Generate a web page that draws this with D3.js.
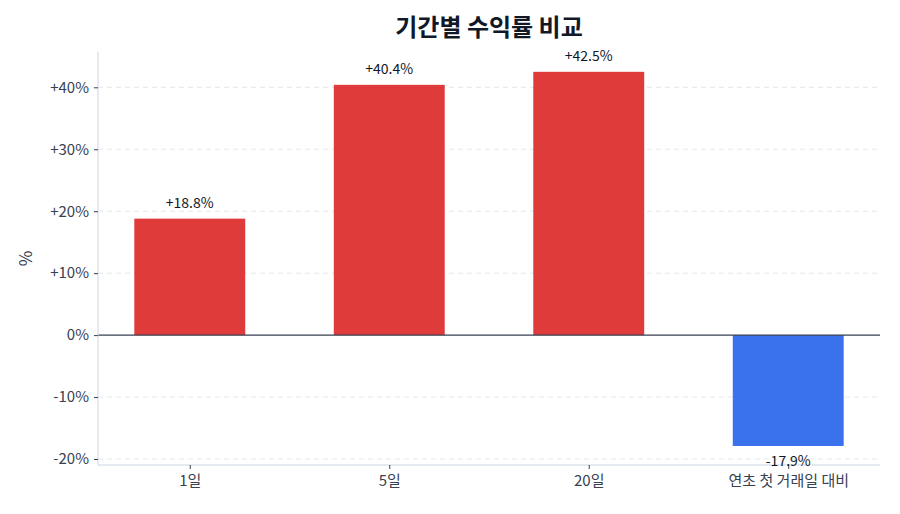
<!DOCTYPE html>
<html>
<head>
<meta charset="utf-8">
<script src="https://cdn.jsdelivr.net/npm/d3@7"></script>
<style>
  html, body { margin: 0; padding: 0; background: #fff; }
  svg { display: block; font-family: "Noto Sans CJK KR", "Noto Sans", sans-serif; }
</style>
</head>
<body>
<svg id="chart" width="900" height="514"></svg>
<script>
const categories = ["1일", "5일", "20일", "연초 첫 거래일 대비"];
const returns = [18.8, 40.4, 42.5, -17.9];
const yTicks = [-20, -10, 0, 10, 20, 30, 40];
const title = "기간별 수익률 비교";
const yLabel = "%";

const svg = d3.select("#chart");
const margin = { left: 98, right: 20, top: 52, bottom: 49 };
const W = 900, H = 514;
const plotL = margin.left, plotR = W - margin.right, plotT = margin.top, plotB = H - margin.bottom;

const x = d3.scaleLinear().domain([-0.46, categories.length - 1 + 0.46]).range([plotL, plotR]);
const y = d3.scaleLinear().domain([-20.97, 45.7]).range([plotB, plotT]);
const barW = 0.556;

const fmt = v => (v > 0 ? "+" : "") + String(v) + "%";
const fmtVal = v => (v > 0 ? "+" : "") + v.toFixed(1) + "%";

// grid
svg.append("g").selectAll("line").data(yTicks.filter(t => t !== 0)).join("line")
  .attr("x1", plotL).attr("x2", plotR)
  .attr("y1", d => y(d)).attr("y2", d => y(d))
  .attr("stroke", "#e5e7eb").attr("stroke-width", 1).attr("stroke-dasharray", "5,4");

// bars
svg.append("g").selectAll("rect").data(returns).join("rect")
  .attr("x", (d, i) => x(i - barW / 2))
  .attr("width", (d, i) => x(i + barW / 2) - x(i - barW / 2))
  .attr("y", d => y(Math.max(0, d)))
  .attr("height", d => Math.abs(y(d) - y(0)))
  .attr("fill", d => d >= 0 ? "#dc2626" : "#2563eb")
  .attr("fill-opacity", 0.9);

// zero line
svg.append("line")
  .attr("x1", plotL).attr("x2", plotR)
  .attr("y1", y(0)).attr("y2", y(0))
  .attr("stroke", "#374151").attr("stroke-width", 1.4);

// axes
const yAxis = d3.axisLeft(y).tickValues(yTicks).tickFormat(fmt).tickSize(4).tickPadding(5);
const yg = svg.append("g").attr("transform", `translate(${plotL},0)`).call(yAxis);
yg.attr("font-family", null).attr("font-size", null);
yg.select(".domain").attr("stroke", "#cbd5e1").attr("d", `M0,${plotT}V${plotB}`);
yg.selectAll(".tick line").attr("stroke", "#374151");
yg.selectAll(".tick text").attr("fill", "#374151").style("font-size", "15px");

const xAxis = d3.axisBottom(x).tickValues(d3.range(categories.length)).tickFormat(i => categories[i]).tickSize(4).tickPadding(6);
const xg = svg.append("g").attr("transform", `translate(0,${plotB})`).call(xAxis);
xg.attr("font-family", null).attr("font-size", null);
xg.select(".domain").attr("stroke", "#cbd5e1").attr("d", `M${plotL},0H${plotR}`);
xg.selectAll(".tick line").attr("stroke", "#374151");
xg.selectAll(".tick text").attr("fill", "#374151").style("font-size", "15px");

// value labels
svg.append("g").selectAll("text").data(returns).join("text")
  .attr("x", (d, i) => x(i))
  .attr("y", d => d >= 0 ? y(d) - 11 : y(d) + 20)
  .attr("text-anchor", "middle")
  .attr("fill", "#111827")
  .style("font-size", "14px")
  .text(fmtVal);

// title
svg.append("text")
  .attr("x", (plotL + plotR) / 2).attr("y", 36)
  .attr("text-anchor", "middle")
  .attr("fill", "#111827")
  .style("font-size", "24px").style("font-weight", "bold")
  .text(title);

// y label
svg.append("text")
  .attr("transform", `translate(32,${(plotT + plotB) / 2}) rotate(-90)`)
  .attr("text-anchor", "middle")
  .attr("fill", "#374151")
  .style("font-size", "17px")
  .text(yLabel);
</script>
</body>
</html>
